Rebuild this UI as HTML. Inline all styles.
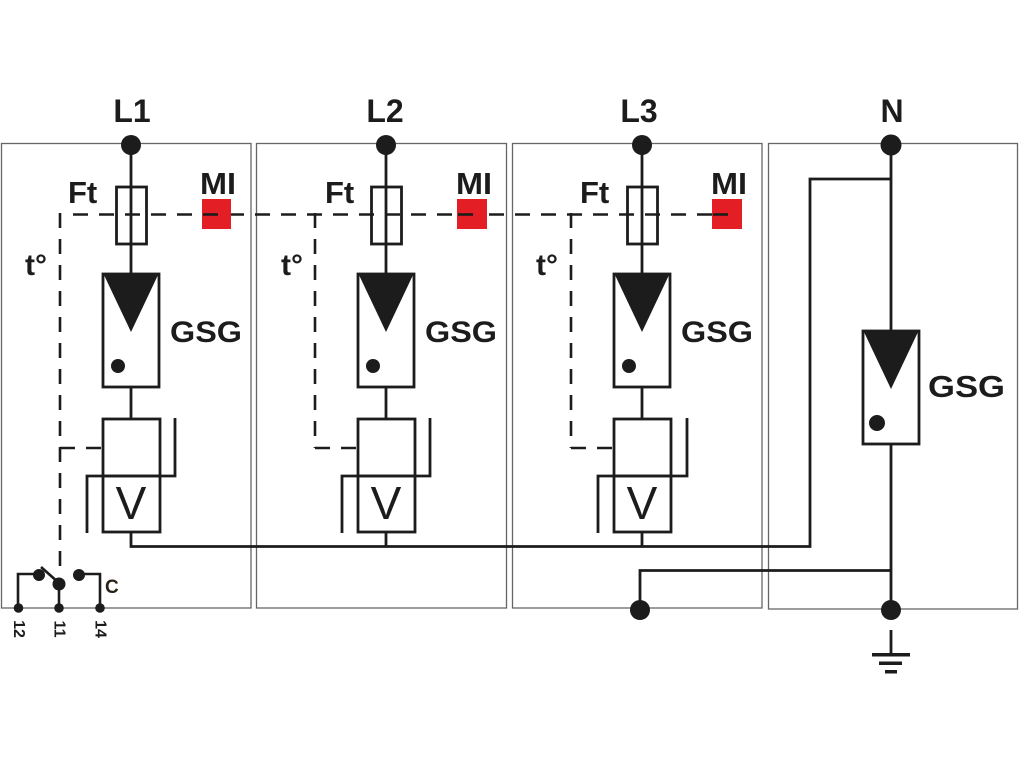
<!DOCTYPE html>
<html><head><meta charset="utf-8"><style>
html,body{margin:0;padding:0;background:#fff;}
svg{display:block;}
text{font-family:"Liberation Sans",Arial,sans-serif;fill:#1c1c1c;}
.b{font-weight:bold;}
</style></head><body>
<svg width="1024" height="768" viewBox="0 0 1024 768" xmlns="http://www.w3.org/2000/svg">
<rect width="1024" height="768" fill="#fff"/>
<!-- module boxes -->
<g fill="none" stroke="#666" stroke-width="1.3">
<rect x="1.5" y="143.5" width="249.5" height="464.5"/>
<rect x="256.5" y="143.5" width="250" height="464.5"/>
<rect x="512.5" y="143.5" width="249.5" height="464.5"/>
<rect x="768.5" y="143.5" width="249" height="465.5"/>
</g>

<!-- dashed lines -->
<g fill="none" stroke="#1c1c1c" stroke-width="2.6" stroke-dasharray="15 11">
<line x1="73" y1="214.5" x2="742" y2="214.5"/>
<line x1="60" y1="213" x2="60" y2="567"/>
<line x1="315" y1="213" x2="315" y2="448"/>
<line x1="571" y1="213" x2="571" y2="448"/>
<line x1="60" y1="448" x2="103" y2="448"/>
<line x1="315" y1="448" x2="358" y2="448"/>
<line x1="571" y1="448" x2="614" y2="448"/>
</g>

<!-- red MI indicators -->
<g fill="#e31e24">
<rect x="202" y="199" width="29" height="30"/>
<rect x="457" y="199" width="30" height="30"/>
<rect x="712" y="199" width="30" height="30"/>
</g>
<g stroke="#1c1c1c" stroke-width="2.6">
<line x1="203" y1="214.5" x2="218" y2="214.5"/>
<line x1="458" y1="214.5" x2="473" y2="214.5"/>
<line x1="713" y1="214.5" x2="728" y2="214.5"/>
</g>

<!-- phase columns -->
<g id="col1">
<g fill="none" stroke="#1c1c1c" stroke-width="2.8">
<line x1="131" y1="145" x2="131" y2="274"/>
<rect x="116.5" y="187" width="30" height="57"/>
<rect x="103" y="274" width="56" height="113"/>
<line x1="131" y1="387" x2="131" y2="419"/>
<rect x="103" y="419" width="57" height="113"/>
<line x1="103" y1="476" x2="160" y2="476"/>
<polyline points="175,418 175,476 87,476 87,533"/>
<polyline points="131,532 131,546.5 810,546.5 810,179 891,179"/>
</g>
<circle cx="131" cy="145" r="10" fill="#1c1c1c"/>
<polygon points="104,275 158,275 131,332" fill="#1c1c1c"/>
<circle cx="118" cy="366" r="7" fill="#1c1c1c"/>
</g>

<g id="col2">
<g fill="none" stroke="#1c1c1c" stroke-width="2.8">
<line x1="386" y1="145" x2="386" y2="274"/>
<rect x="371.5" y="187" width="30" height="57"/>
<rect x="358" y="274" width="56" height="113"/>
<line x1="386" y1="387" x2="386" y2="419"/>
<rect x="358" y="419" width="57" height="113"/>
<line x1="358" y1="476" x2="415" y2="476"/>
<polyline points="430,418 430,476 342,476 342,533"/>
<line x1="386" y1="532" x2="386" y2="546.5"/>
</g>
<circle cx="386" cy="145" r="10" fill="#1c1c1c"/>
<polygon points="359,275 413,275 386,332" fill="#1c1c1c"/>
<circle cx="373" cy="366" r="7" fill="#1c1c1c"/>
</g>

<g id="col3">
<g fill="none" stroke="#1c1c1c" stroke-width="2.8">
<line x1="642" y1="145" x2="642" y2="274"/>
<rect x="627.5" y="187" width="30" height="57"/>
<rect x="614" y="274" width="56" height="113"/>
<line x1="642" y1="387" x2="642" y2="419"/>
<rect x="614" y="419" width="57" height="113"/>
<line x1="614" y1="476" x2="671" y2="476"/>
<polyline points="687,418 687,476 598,476 598,533"/>
<line x1="642" y1="532" x2="642" y2="546.5"/>
</g>
<circle cx="642" cy="145" r="10" fill="#1c1c1c"/>
<polygon points="615,275 669,275 642,332" fill="#1c1c1c"/>
<circle cx="629" cy="366" r="7" fill="#1c1c1c"/>
</g>

<!-- N column -->
<g fill="none" stroke="#1c1c1c" stroke-width="2.8">
<line x1="891" y1="145" x2="891" y2="331"/>
<rect x="863" y="331" width="56" height="113"/>
<line x1="891" y1="444" x2="891" y2="610"/>
<polyline points="891,570.5 640,570.5 640,610"/>
<line x1="891" y1="630" x2="891" y2="655"/>
</g>
<polygon points="864,332 918,332 891,389" fill="#1c1c1c"/>
<circle cx="877" cy="423" r="8" fill="#1c1c1c"/>
<circle cx="891" cy="145" r="10.5" fill="#1c1c1c"/>
<circle cx="891" cy="610" r="10" fill="#1c1c1c"/>
<circle cx="640" cy="610" r="10" fill="#1c1c1c"/>
<!-- ground -->
<g fill="#1c1c1c">
<rect x="872" y="653" width="38" height="3.5"/>
<rect x="879" y="661.5" width="23" height="3.5"/>
<rect x="885" y="670" width="12" height="3.5"/>
</g>

<!-- signalling contact -->
<g fill="none" stroke="#1c1c1c" stroke-width="2.6">
<polyline points="18,608 18,574 39,574"/>
<line x1="41" y1="567" x2="59" y2="583"/>
<line x1="59" y1="584" x2="59" y2="608"/>
<polyline points="79,574 100,574 100,608"/>
</g>
<g fill="#1c1c1c">
<circle cx="39" cy="575" r="6"/>
<circle cx="59" cy="584" r="6.5"/>
<circle cx="79" cy="575" r="6"/>
<circle cx="18.5" cy="608" r="4.8"/>
<circle cx="59" cy="608" r="4.8"/>
<circle cx="100" cy="608" r="4.8"/>
</g>
<text class="b" x="105" y="593" font-size="19" style="fill:#2a2218">C</text>
<text class="b" font-size="16" transform="translate(18.5,629) rotate(90)" text-anchor="middle" dominant-baseline="central">12</text>
<text class="b" font-size="16" transform="translate(59,629) rotate(90)" text-anchor="middle" dominant-baseline="central">11</text>
<text class="b" font-size="16" transform="translate(100,629) rotate(90)" text-anchor="middle" dominant-baseline="central">14</text>

<!-- labels -->
<text class="b" font-size="32" x="132" y="122" text-anchor="middle">L1</text>
<text class="b" font-size="32" x="385" y="122" text-anchor="middle">L2</text>
<text class="b" font-size="32" x="639" y="122" text-anchor="middle">L3</text>
<text class="b" font-size="32" x="892" y="122" text-anchor="middle">N</text>

<text class="b" font-size="31" x="68" y="203">Ft</text>
<text class="b" font-size="31" x="325" y="203">Ft</text>
<text class="b" font-size="31" x="580" y="203">Ft</text>
<text class="b" font-size="31" x="200" y="194" textLength="36" lengthAdjust="spacingAndGlyphs">MI</text>
<text class="b" font-size="31" x="456" y="194" textLength="36" lengthAdjust="spacingAndGlyphs">MI</text>
<text class="b" font-size="31" x="711" y="194" textLength="36" lengthAdjust="spacingAndGlyphs">MI</text>
<text class="b" font-size="30" x="25" y="275">t°</text>
<text class="b" font-size="30" x="281" y="275">t°</text>
<text class="b" font-size="30" x="536" y="275">t°</text>

<text class="b" font-size="30" x="170" y="342" textLength="72" lengthAdjust="spacingAndGlyphs">GSG</text>
<text class="b" font-size="30" x="425" y="342" textLength="72" lengthAdjust="spacingAndGlyphs">GSG</text>
<text class="b" font-size="30" x="681" y="342" textLength="72" lengthAdjust="spacingAndGlyphs">GSG</text>
<text class="b" font-size="31" x="928" y="397" textLength="77" lengthAdjust="spacingAndGlyphs">GSG</text>

<text font-size="46" x="131" y="519" text-anchor="middle">V</text>
<text font-size="46" x="386" y="519" text-anchor="middle">V</text>
<text font-size="46" x="642" y="519" text-anchor="middle">V</text>
</svg>
</body></html>
